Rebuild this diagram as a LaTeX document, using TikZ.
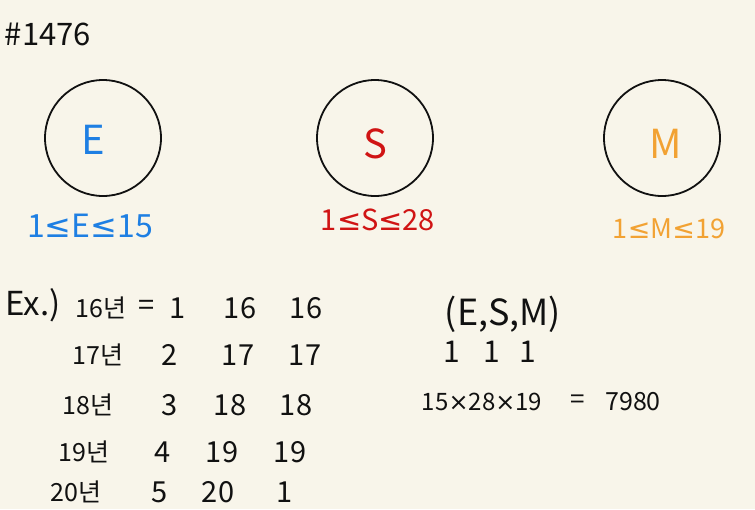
\documentclass[tikz,border=0pt]{standalone}
\usepackage{fontspec}
\setmainfont{Noto Sans CJK KR}
\newfontfamily\symfont{DejaVu Sans}
\definecolor{paper}{HTML}{F8F5EA}
\definecolor{eblue}{HTML}{1E7FE3}
\definecolor{sred}{HTML}{D01414}
\definecolor{morange}{HTML}{F2A233}
\definecolor{ink}{HTML}{111111}
\newcommand{\fs}[1]{\fontsize{#1}{#1}\selectfont}
\begin{document}
\begin{tikzpicture}[x=1pt,y=-1pt,
  hand/.style={text=ink,inner sep=0pt,font=\fs{29}},
  yr/.style={text=ink,inner sep=0pt,font=\fs{25}},
  big/.style={inner sep=0pt,font=\fs{40}},
  rng/.style={inner sep=0pt},
  ring/.style={circle,draw=ink,line width=1.8pt,minimum size=116pt,inner sep=0pt}]
\fill[paper] (0,0) rectangle (755,509);
\useasboundingbox (0,0) rectangle (755,509);
% title
\node[hand,font=\fs{31}] (title) at (48,34) {\#1476};
% circles
\node[ring] (ce) at (103,138) {};
\node[ring] (cs) at (375,138) {};
\node[ring] (cm) at (662,138) {};
\node[big,text=eblue] (le) at (93,140) {E};
\node[big,text=sred] (ls) at (375,144) {S};
\node[big,text=morange] (lm) at (666,144) {M};
% ranges
\node[rng,text=eblue,font=\fs{32}] (re) at (90,226) {1{\symfont≤}E{\symfont≤}15};
\node[rng,text=sred,font=\fs{29}] (rs) at (378,220) {1{\symfont≤}S{\symfont≤}28};
\node[rng,text=morange,font=\fs{27}] (rm) at (669,229) {1{\symfont≤}M{\symfont≤}19};
% example table
\node[hand,font=\fs{33}] (ex) at (33,305) {Ex.)};
\node[yr] (y16) at (101,308) {16년};
\node[hand] (eq1) at (147,308) {=};
\node[hand] (a1) at (178,308) {1};
\node[hand] (b1) at (240,308) {16};
\node[hand] (c1) at (306,308) {16};
\node[yr] (y17) at (98,355) {17년};
\node[hand] (a2) at (170,355) {2};
\node[hand] (b2) at (238,355) {17};
\node[hand] (c2) at (305,355) {17};
\node[yr] (y18) at (88,405) {18년};
\node[hand] (a3) at (170,405) {3};
\node[hand] (b3) at (230,405) {18};
\node[hand] (c3) at (296,405) {18};
\node[yr] (y19) at (84,452) {19년};
\node[hand] (a4) at (163,452) {4};
\node[hand] (b4) at (222,452) {19};
\node[hand] (c4) at (290,452) {19};
\node[yr] (y20) at (76,492) {20년};
\node[hand] (a5) at (160,492) {5};
\node[hand] (b5) at (218,492) {20};
\node[hand] (c5) at (285,492) {1};
% right part
\node[hand,font=\fs{36}] (esm) at (503,314) {(E,S,M)};
\node[hand,font=\fs{30}] (o1) at (452,352) {1};
\node[hand,font=\fs{30}] (o2) at (492,352) {1};
\node[hand,font=\fs{30}] (o3) at (528,352) {1};
\node[hand,font=\fs{24}] (prod) at (482,402) {15{\symfont×}28{\symfont×}19};
\node[hand,font=\fs{26}] (eq2) at (578,402) {=};
\node[hand,font=\fs{25}] (res) at (633,402) {7980};
\end{tikzpicture}
\end{document}
